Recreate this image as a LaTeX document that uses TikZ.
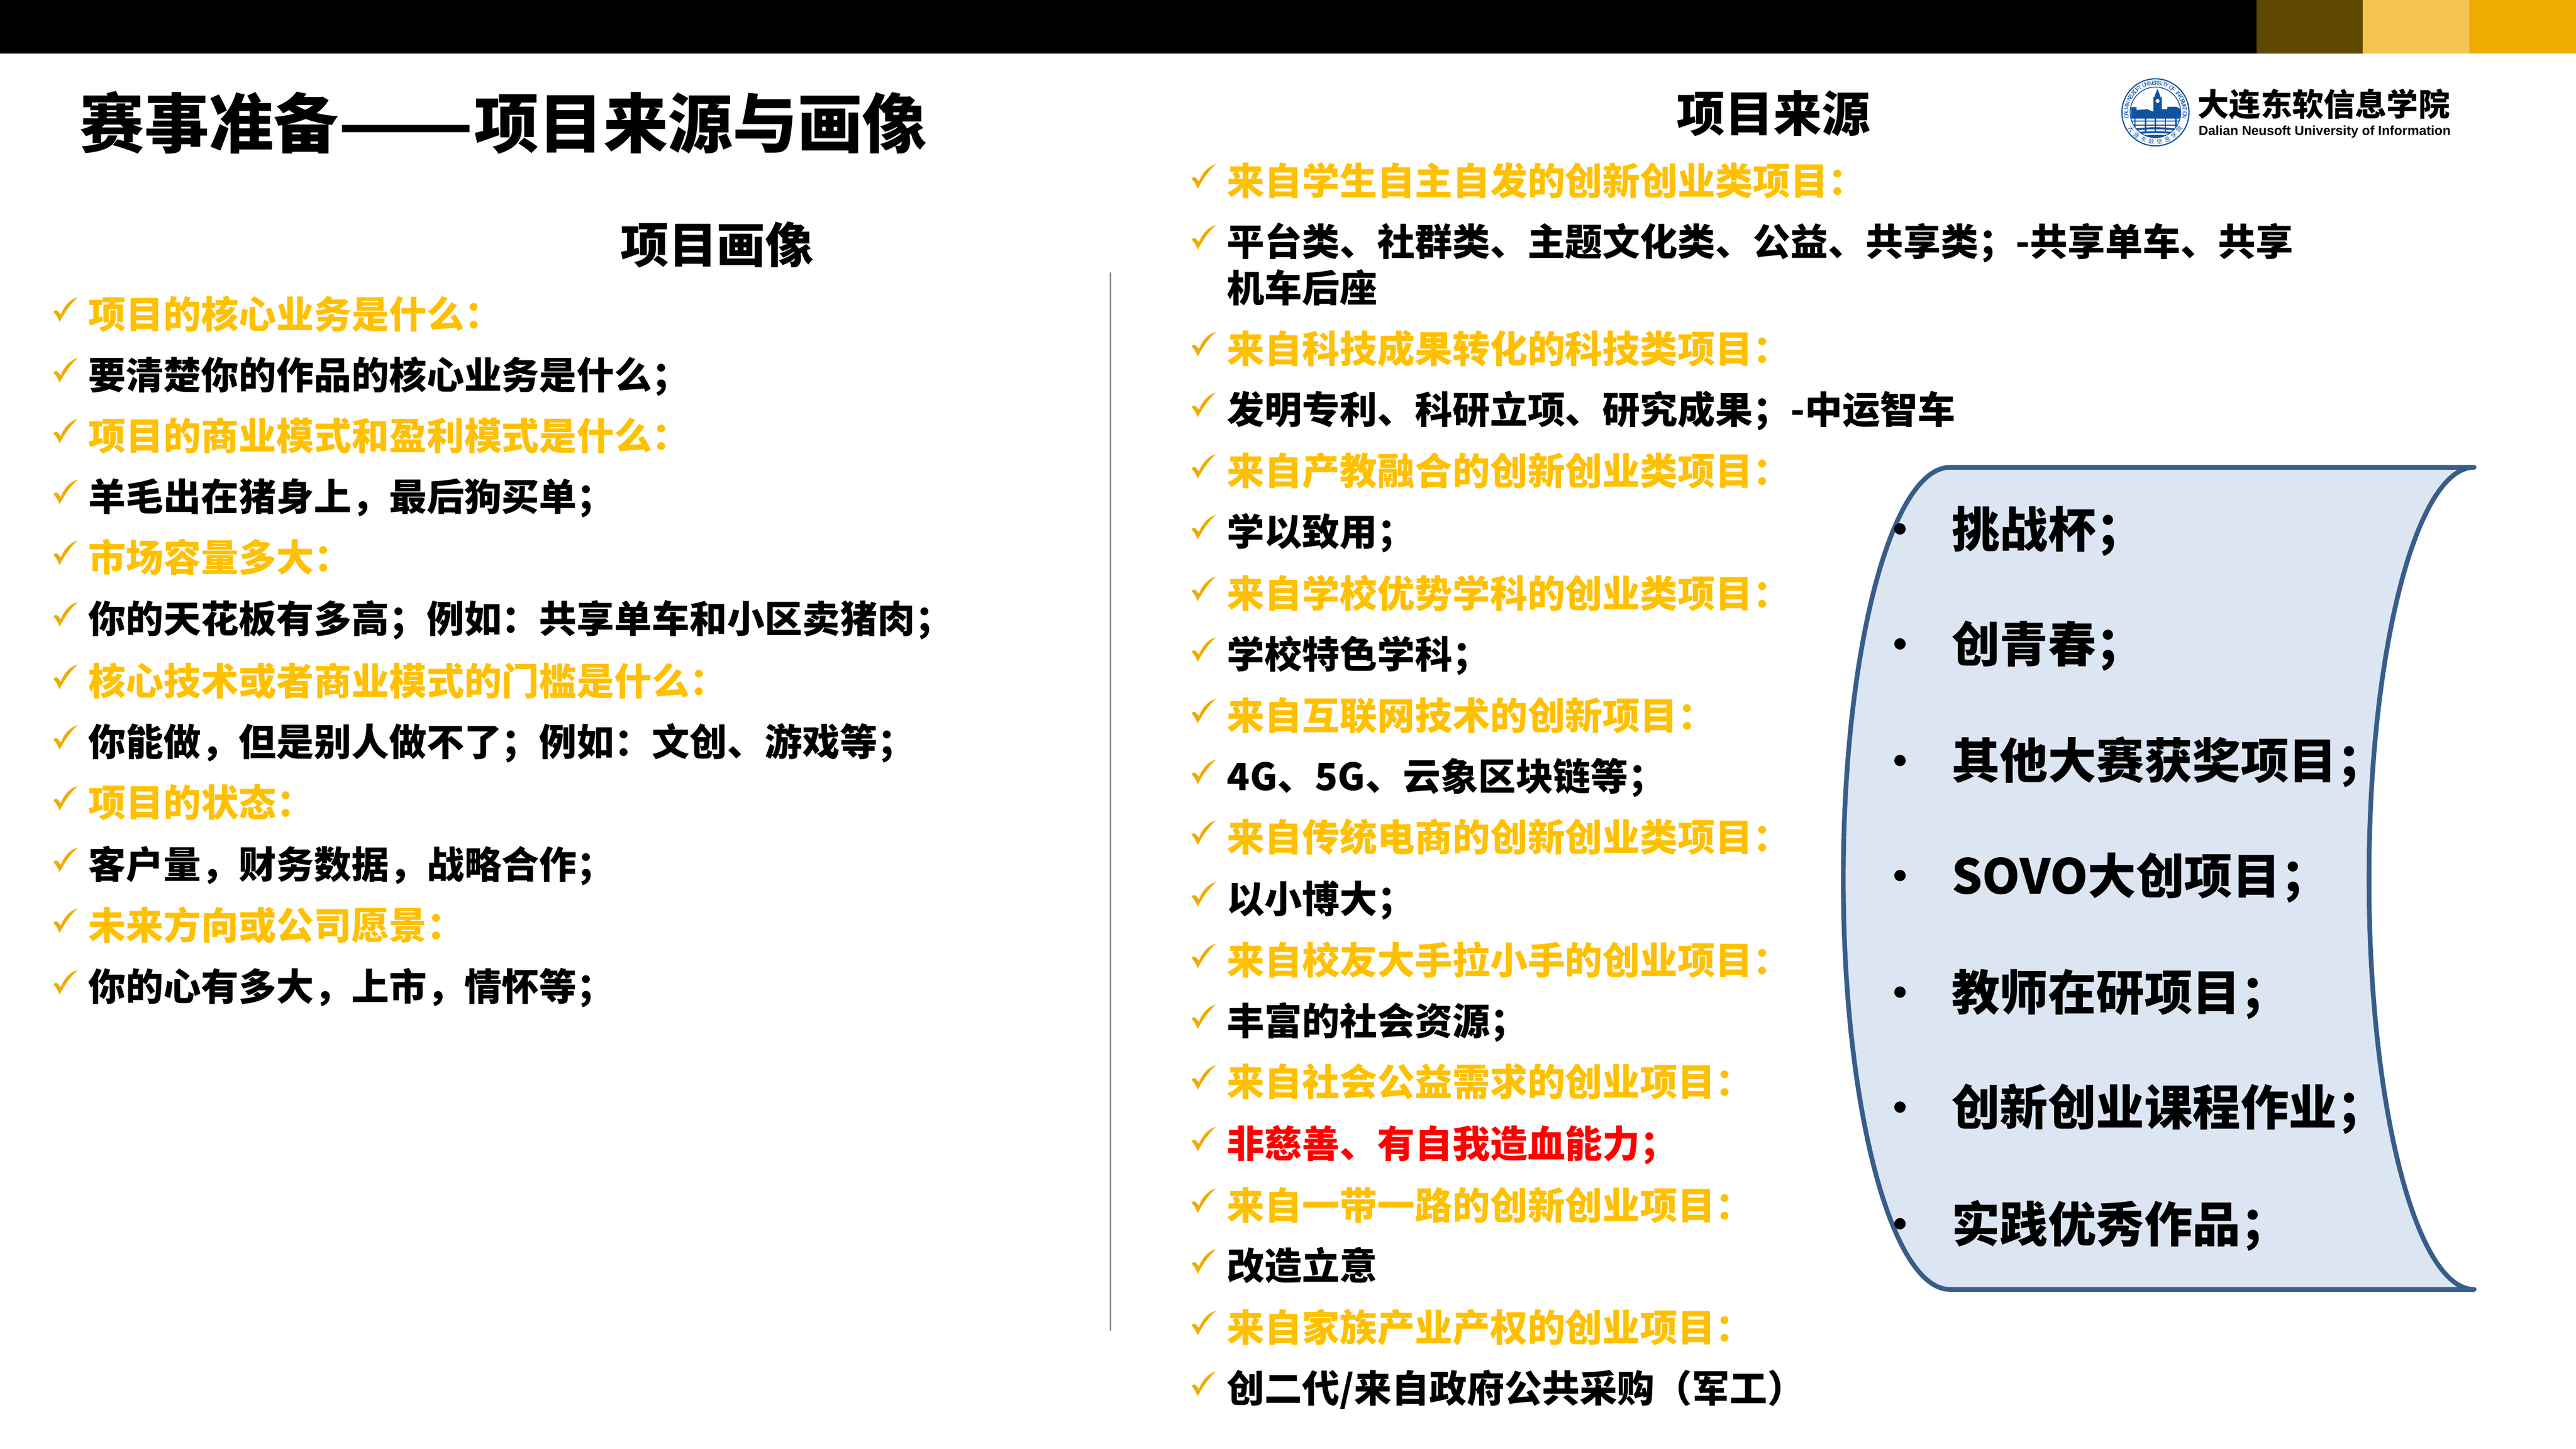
\documentclass[tikz,border=0pt]{standalone}
\usepackage{fontspec}
\setmainfont{Noto Sans CJK SC}
\newfontfamily\latinlogo{Liberation Sans}
\definecolor{hdbrown}{HTML}{5F4700}
\definecolor{hdgold}{HTML}{F3C44F}
\definecolor{hdorange}{HTML}{EEAC00}
\definecolor{itemgold}{HTML}{FFC000}
\definecolor{itemred}{HTML}{FF0000}
\definecolor{tapeline}{HTML}{385D8A}
\definecolor{tapefill}{HTML}{DCE6F2}
\definecolor{sealblue}{HTML}{0F52A0}
\definecolor{rulegray}{HTML}{8C8C8C}
\tikzset{
  item/.style={anchor=west,inner sep=0pt,font=\fontsize{11.2}{13}\selectfont\bfseries,text height=9.9pt,text depth=1.3pt},
  tapeitem/.style={anchor=west,inner sep=0pt,font=\fontsize{14.37}{16}\selectfont\bfseries,text height=12.6pt,text depth=1.7pt},
  tapedot/.style={anchor=center,inner sep=0pt,circle,fill=black,minimum size=3.4pt},
  subhead/.style={anchor=center,inner sep=0pt,font=\fontsize{14.4}{16}\selectfont\bfseries,text height=12.7pt,text depth=1.7pt},
  sealtxt/.style={inner sep=0pt,text=sealblue,font=\fontsize{1.8}{2}\latinlogo\selectfont},
  chk/.pic={\fill[hdorange] (0,-1.1) .. controls (0.5,-2) and (1.2,-2.3) .. (1.9,-2.1)
      .. controls (2.8,-1.5) and (3.6,-0.5) .. (4.4,0.6)
      .. controls (6.2,-4.5) and (10,-8.8) .. (14.8,-10)
      .. controls (10,-6) and (6,0.5) .. (3.6,5)
      .. controls (2.8,2.5) and (1.5,0.5) .. (0,-1.1) -- cycle;}
}
\begin{document}
\begin{tikzpicture}[x=0.4898pt,y=-0.4898pt]
\useasboundingbox (0,0) rectangle (1568,882);
\fill[white] (0,0) rectangle (1568,882);
% header band
\fill[black] (0,0) rectangle (1373.4,32.5);
\fill[hdbrown] (1373.4,0) rectangle (1438,32.5);
\fill[hdgold] (1438,0) rectangle (1503,32.5);
\fill[hdorange] (1503,0) rectangle (1568,32.5);
% titles
\node[anchor=west,inner sep=0pt,font=\fontsize{19.3}{22}\selectfont\bfseries,text height=17pt,text depth=2.4pt] (title) at (48,75) {赛事准备\scalebox{1.22}[1]{——}项目来源与画像};
\node[subhead] (headL) at (436.5,149) {项目画像};
\node[subhead] (headR) at (1079.5,69) {项目来源};
% divider
\draw[rulegray,line width=0.5pt] (676,166) -- (676,810);
% left list
\foreach \ypos/\col/\txt [count=\i] in {
 191/itemgold/{项目的核心业务是什么：},
 228/black/{要清楚你的作品的核心业务是什么；},
 265/itemgold/{项目的商业模式和盈利模式是什么：},
 302/black/{羊毛出在猪身上，最后狗买单；},
 339/itemgold/{市场容量多大：},
 376.5/black/{你的天花板有多高；例如：共享单车和小区卖猪肉；},
 414.5/itemgold/{核心技术或者商业模式的门槛是什么：},
 451.5/black/{你能做，但是别人做不了；例如：文创、游戏等；},
 488.5/itemgold/{项目的状态：},
 526/black/{客户量，财务数据，战略合作；},
 563/itemgold/{未来方向或公司愿景：},
 600.5/black/{你的心有多大，上市，情怀等；}}{
  \pic at (32.6,\ypos) {chk};
  \node[item,text=\col] (L\i) at (53.5,\ypos) {\txt};
}
% right list
\foreach \ypos/\col/\txt [count=\i] in {
 110/itemgold/{来自学生自主自发的创新创业类项目：},
 147/black/{平台类、社群类、主题文化类、公益、共享类；-共享单车、共享},
 212/itemgold/{来自科技成果转化的科技类项目：},
 249/black/{发明专利、科研立项、研究成果；-中运智车},
 286.5/itemgold/{来自产教融合的创新创业类项目：},
 323.5/black/{学以致用；},
 361/itemgold/{来自学校优势学科的创业类项目：},
 398/black/{学校特色学科；},
 435.5/itemgold/{来自互联网技术的创新项目：},
 472.5/black/{4G、5G、云象区块链等；},
 509.5/itemgold/{来自传统电商的创新创业类项目：},
 547/black/{以小博大；},
 584.5/itemgold/{来自校友大手拉小手的创业项目：},
 621.5/black/{丰富的社会资源；},
 658.5/itemgold/{来自社会公益需求的创业项目：},
 696/itemred/{非慈善、有自我造血能力；},
 733.5/itemgold/{来自一带一路的创新创业项目：},
 770.5/black/{改造立意},
 808/itemgold/{来自家族产业产权的创业项目：},
 845/black/{创二代/来自政府公共采购（军工）}}{
  \pic at (725.4,\ypos) {chk};
  \node[item,text=\col] (R\i) at (746.5,\ypos) {\txt};
}
\node[item] (R2b) at (746.5,175) {机车后座};
% tape shape
\draw[tapeline,fill=tapefill,line width=1.4pt,line join=round,line cap=round]
  (1187,284.5) -- (1506,284.5)
  .. controls (1470.7,284.5) and (1442,396.7) .. (1442,535)
  .. controls (1442,673.3) and (1470.7,785) .. (1506,785)
  -- (1187,785)
  .. controls (1151.1,785) and (1122,673.3) .. (1122,535)
  .. controls (1122,396.7) and (1151.1,284.5) .. (1187,284.5) -- cycle;
\foreach \ypos/\txt [count=\i] in {
 322/{挑战杯；},
 392/{创青春；},
 463/{其他大赛获奖项目；},
 533/{SOVO大创项目；},
 604/{教师在研项目；},
 674/{创新创业课程作业；},
 745/{实践优秀作品；}}{
  \node[tapedot] (D\i) at (1156.5,\ypos) {};
  \node[tapeitem] (T\i) at (1187.5,\ypos) {\txt};
}
% logo seal
\coordinate (seal) at (1312,68.4);
\draw[sealblue,line width=0.35pt] (seal) circle (10pt);
\draw[sealblue,line width=0.25pt] (seal) circle (7.54pt);
\begin{scope}
  \clip (seal) circle (7.54pt);
  \fill[sealblue] (1313.2,54.1) -- (1315.2,59.2) -- (1315.9,59.2) -- (1315.9,66.5)
    -- (1319.2,66.5) -- (1319.2,65) -- (1325,65) -- (1327.2,66.5) -- (1327.2,72.2)
    -- (1297.2,72.2) -- (1297.2,65.2) -- (1300.5,65.2) -- (1300.5,67) -- (1307,66.5)
    -- (1310.7,68) -- (1310.7,59.2) -- (1311.2,59.2) -- cycle;
  \fill[white] (1313.3,61.5) circle (0.6pt);
  \fill[sealblue] (1297,73.4) rectangle (1327,74);
  \fill[sealblue] (1297,76) rectangle (1327,76.6);
  \foreach \px in {1299.5,1306,1312,1318,1324.5}
    \fill[sealblue] (\px-0.4,72) rectangle (\px+0.4,80);
  \draw[sealblue,line width=0.6pt] (1296,79.6) .. controls (1304,77.6) and (1320,77.6) .. (1328,79.6);
  \draw[sealblue,line width=0.6pt] (1296,82) .. controls (1304,79.9) and (1320,79.9) .. (1328,82);
  \draw[sealblue,line width=0.8pt] (1296,84.6) .. controls (1304,82.4) and (1320,82.4) .. (1328,84.6);
\end{scope}
\foreach \ch [count=\n] in {D,A,L,I,A,N,{ },N,E,U,S,O,F,T,{ },U,N,I,V,E,R,S,I,T,Y,{ },O,F,{ },I,N,F,O,R,M,A,T,I,O,N}{
  \pgfmathsetmacro{\ang}{188-(\n-1)*196/39}
  \node[sealtxt,rotate=\ang-90] (SE\n) at ([shift={(\ang:8.75pt)}]seal) {\ch};
}
\foreach \ch [count=\n] in {大,连,东,软,信,息,学,院}{
  \pgfmathsetmacro{\ang}{215+(\n-1)*110/7}
  \node[sealtxt,font=\fontsize{1.7}{2}\selectfont,rotate=\ang+90] (SC\n) at ([shift={(\ang:8.8pt)}]seal) {\ch};
}
\node[anchor=center,inner sep=0pt,font=\fontsize{9.4}{10}\selectfont\bfseries] (logoCN) at (1414.5,63.5) {大连东软信息学院};
\node[anchor=center,inner sep=0pt,font=\fontsize{3.93}{4}\latinlogo\selectfont\bfseries] (logoEN) at (1415,80.3) {Dalian Neusoft University of Information};
\end{tikzpicture}
\end{document}
